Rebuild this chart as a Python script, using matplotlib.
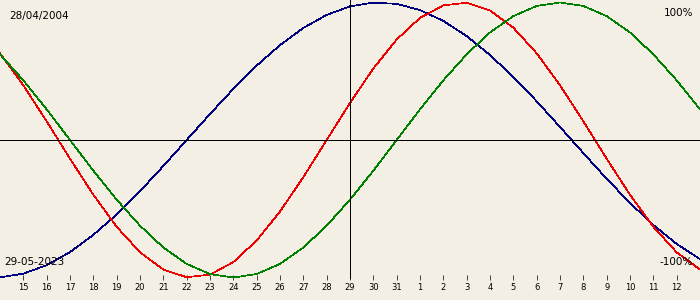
import matplotlib
matplotlib.use('Agg')
import matplotlib.pyplot as plt

# biorhythm chart: birth 28/04/2004, centred on 29-05-2023
birth_label = '28/04/2004'
today_label = '29-05-2023'

# day offsets from the centre date, one point per day
offsets = list(range(-15, 16))

# values (-1 .. 1)
physical = [0.631, 0.398, 0.136, -0.136, -0.398, -0.631, -0.817, -0.942,
            -0.998, -0.979, -0.888, -0.731, -0.520, -0.270, 0.0, 0.270,
            0.520, 0.731, 0.888, 0.979, 0.998, 0.942, 0.817, 0.631,
            0.398, 0.136, -0.136, -0.398, -0.631, -0.817, -0.942]
emotional = [0.623, 0.434, 0.223, 0.0, -0.223, -0.434, -0.623, -0.782,
             -0.901, -0.975, -1.0, -0.975, -0.901, -0.782, -0.623, -0.434,
             -0.223, 0.0, 0.223, 0.434, 0.623, 0.782, 0.901, 0.975,
             1.0, 0.975, 0.901, 0.782, 0.623, 0.434, 0.223]
intellectual = [-0.999, -0.972, -0.910, -0.815, -0.690, -0.541, -0.372, -0.189,
                0.0, 0.189, 0.372, 0.541, 0.690, 0.815, 0.910, 0.972,
                0.999, 0.990, 0.945, 0.866, 0.756, 0.618, 0.458, 0.282,
                0.095, -0.095, -0.282, -0.458, -0.618, -0.756, -0.866]

tick_offsets = list(range(-14, 15))
tick_labels = ['15', '16', '17', '18', '19', '20', '21', '22', '23', '24',
               '25', '26', '27', '28', '29', '30', '31', '1', '2', '3',
               '4', '5', '6', '7', '8', '9', '10', '11', '12']

bg = '#F3EFE4'
LW = 0.5


def main():
    fig = plt.figure(figsize=(7, 3), dpi=100, facecolor=bg)
    ax = fig.add_axes([0, 25 / 300, 1, 275 / 300])
    ax.set_facecolor(bg)

    ax.plot(offsets, intellectual, color='#000080', lw=LW, antialiased=False,
            clip_on=False)
    ax.plot(offsets, physical, color='#EE0000', lw=LW, antialiased=False,
            clip_on=False)
    ax.plot(offsets, emotional, color='#008000', lw=LW, antialiased=False,
            clip_on=False)

    ax.axhline(0, color='black', lw=LW, antialiased=False)
    ax.axvline(0, ymin=-0.012, color='black', lw=LW, antialiased=False,
               clip_on=False)

    ax.set_xlim(-15, 15)
    ax.set_ylim(-0.9818, 1.0182)

    for s in ax.spines.values():
        s.set_visible(False)
    ax.set_yticks([])
    ax.set_xticks(tick_offsets)
    ax.set_xticklabels(tick_labels)
    ax.tick_params(axis='x', direction='out', length=3.6, width=LW,
                   color='black', pad=2.5, labelsize=6)

    fig.text(9 / 700, 1 - 16.5 / 300, birth_label, fontsize=7.5,
             va='center', ha='left')
    fig.text(693 / 700, 1 - 12.5 / 300, '100%', fontsize=7.5,
             va='center', ha='right')
    fig.text(4 / 700, 1 - 262 / 300, today_label, fontsize=7.5,
             va='center', ha='left')
    fig.text(693 / 700, 1 - 262 / 300, '-100%', fontsize=7.5,
             va='center', ha='right')

    fig.savefig('out.png', dpi=100, facecolor=bg)


if __name__ == '__main__':
    main()
